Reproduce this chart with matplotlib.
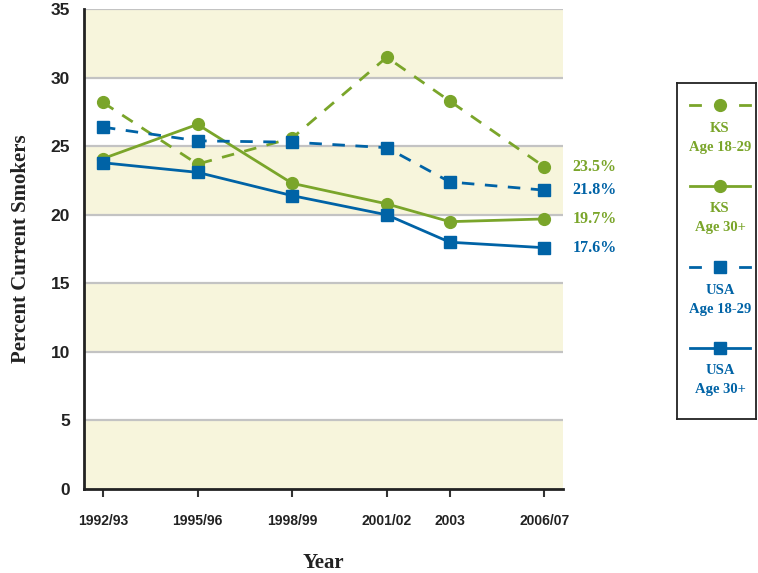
import matplotlib.pyplot as plt
from matplotlib.lines import Line2D

# Dane
lata = [1992.5, 1995.5, 1998.5, 2001.5, 2003.5, 2006.5]
etykiety_lat = ['1992/93', '1995/96', '1998/99', '2001/02', '2003', '2006/07']

ks_18_29 = [28.2, 23.7, 25.6, 31.5, 28.3, 23.5]
ks_30 = [24.1, 26.6, 22.3, 20.8, 19.5, 19.7]
usa_18_29 = [26.4, 25.4, 25.3, 24.9, 22.4, 21.8]
usa_30 = [23.8, 23.1, 21.4, 20.0, 18.0, 17.6]

etykiety_koncowe = ['23.5%', '21.8%', '19.7%', '17.6%']
legenda = [('KS', 'Age 18-29'), ('KS', 'Age 30+'), ('USA', 'Age 18-29'), ('USA', 'Age 30+')]

zielony = '#7aa52a'
niebieski = '#0063a6'
bezowy = '#f7f5dc'
szary = '#c3c3c3'
serif = ['Liberation Serif', 'DejaVu Serif']
sans = ['Liberation Sans', 'DejaVu Sans']

fig = plt.figure(figsize=(7.58, 5.73), dpi=100)
ax = fig.add_axes([0.1108, 0.1468, 0.6324, 0.837])

# Pasy tla
for dol in range(0, 35, 10):
    ax.axhspan(dol, dol + 5, color=bezowy, zorder=0, lw=0)
for y in range(5, 40, 5):
    ax.axhline(y, color=szary, lw=1.6, zorder=1)

dash = (0, (4.5, 3.8))
ax.plot(lata, ks_18_29, color=zielony, lw=2.0, ls=dash, marker='o', ms=8.5, zorder=3)
ax.plot(lata, ks_30, color=zielony, lw=2.0, marker='o', ms=8.5, zorder=3)
ax.plot(lata, usa_18_29, color=niebieski, lw=2.0, ls=dash, marker='s', ms=8.5, zorder=3)
ax.plot(lata, usa_30, color=niebieski, lw=2.0, marker='s', ms=8.5, zorder=3)

# Etykiety koncowe
kolory_konc = [zielony, niebieski, zielony, niebieski]
wartosci_konc = [ks_18_29[-1], usa_18_29[-1], ks_30[-1], usa_30[-1]]
for tekst, wart, kol in zip(etykiety_koncowe, wartosci_konc, kolory_konc):
    ax.annotate(tekst, (lata[-1], wart), xytext=(20, 0), textcoords='offset points',
                va='center', ha='left', color=kol, fontsize=11.5, fontweight='bold',
                family=serif, annotation_clip=False)

ax.set_xlim(1991.9, 2007.1)
ax.set_ylim(0, 35)
ax.set_xticks(lata)
ax.set_xticklabels(etykiety_lat, fontsize=10, fontweight='bold', family=sans, color='#222222')
ax.set_yticks(range(0, 40, 5))
ax.set_yticklabels([str(v) for v in range(0, 40, 5)], fontsize=12.5, fontweight='bold',
                   family=sans, color='#222222')
ax.tick_params(axis='y', length=0, pad=10)
ax.tick_params(axis='x', direction='out', length=6, width=1.5, pad=12, color='#333333')
for s in ['top', 'right']:
    ax.spines[s].set_visible(False)
ax.spines['left'].set_linewidth(2)
ax.spines['bottom'].set_linewidth(2)
ax.spines['left'].set_color('#222222')
ax.spines['bottom'].set_color('#222222')

ax.set_xlabel('Year', fontsize=15, family=serif, fontweight='bold', labelpad=18, color='#222222')
ax.set_ylabel('Percent Current Smokers', fontsize=15, family=serif, fontweight='bold',
              labelpad=14, color='#222222')

# Legenda
lax = fig.add_axes([677 / 758, (573 - 419) / 573, 79 / 758, 336 / 573])
lax.set_xlim(0, 79)
lax.set_ylim(336, 0)
lax.set_xticks([])
lax.set_yticks([])
for s in lax.spines.values():
    s.set_linewidth(1.3)
    s.set_color('#222222')
style = [(zielony, dash, 'o'), (zielony, '-', 'o'), (niebieski, dash, 's'), (niebieski, '-', 's')]
for i, ((l1, l2), (kol, ls, mk)) in enumerate(zip(legenda, style)):
    y0 = 22 + i * 81
    if ls == '-':
        lax.add_line(Line2D([13, 73], [y0, y0], color=kol, lw=2.0))
    else:
        lax.add_line(Line2D([13, 23], [y0, y0], color=kol, lw=2.0))
        lax.add_line(Line2D([63, 73], [y0, y0], color=kol, lw=2.0))
    lax.plot([43], [y0], marker=mk, color=kol, ms=8.5)
    lax.text(43, y0 + 23, l1, ha='center', va='center', color=kol, fontsize=10.5,
             fontweight='bold', family=serif)
    lax.text(43, y0 + 42, l2, ha='center', va='center', color=kol, fontsize=10.5,
             fontweight='bold', family=serif)

fig.savefig('out.png', dpi=100)
